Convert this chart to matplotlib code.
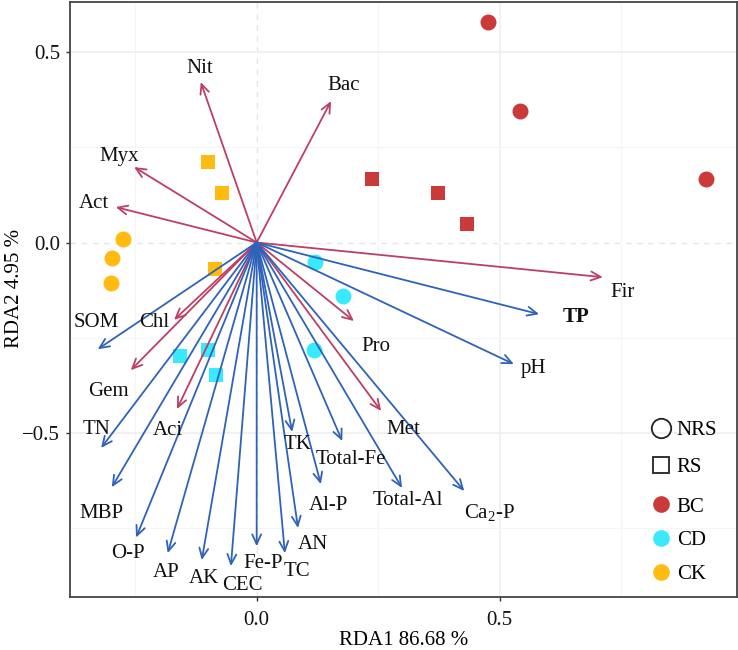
#!/usr/bin/env python3
import matplotlib
matplotlib.use('Agg')
import matplotlib.pyplot as plt
from matplotlib.lines import Line2D

plt.rcParams['font.family'] = ['Liberation Serif', 'DejaVu Serif']
plt.rcParams['mathtext.fontset'] = 'custom'
plt.rcParams['mathtext.rm'] = 'Liberation Serif'
plt.rcParams['mathtext.default'] = 'rm'

# Sample scores, one list per treatment and root compartment.
bc_nrs_x = [0.476, 0.542, 0.925]
bc_nrs_y = [0.579, 0.345, 0.167]
bc_rs_x = [0.237, 0.373, 0.433]
bc_rs_y = [0.167, 0.130, 0.049]
cd_nrs_x = [0.120, 0.178, 0.118]
cd_nrs_y = [-0.051, -0.140, -0.282]
cd_rs_x = [-0.158, -0.100, -0.084]
cd_rs_y = [-0.298, -0.282, -0.348]
ck_nrs_x = [-0.275, -0.298, -0.300]
ck_nrs_y = [0.009, -0.041, -0.106]
ck_rs_x = [-0.100, -0.071, -0.086]
ck_rs_y = [0.211, 0.130, -0.070]

# Phyla arrows (red).
phyla = ['Nit', 'Bac', 'Myx', 'Act', 'Fir', 'Pro', 'Met', 'Chl', 'Gem', 'Aci']
phyla_x = [-0.115, 0.153, -0.252, -0.290, 0.712, 0.200, 0.256, -0.170, -0.259, -0.164]
phyla_y = [0.421, 0.371, 0.198, 0.093, -0.091, -0.206, -0.442, -0.203, -0.335, -0.437]
phyla_label_x = [-0.117, 0.178, -0.283, -0.335, 0.752, 0.245, 0.301, -0.211, -0.304, -0.182]
phyla_label_y = [0.456, 0.413, 0.225, 0.102, -0.131, -0.273, -0.491, -0.210, -0.391, -0.494]

# Soil property arrows (blue).
soil = ['SOM', 'TN', 'MBP', 'O-P', 'AP', 'AK', 'CEC', 'Fe-P', 'TC', 'AN', 'Al-P',
        'TK', 'Total-Fe', 'Total-Al', 'Ca$_2$-P', 'pH', 'TP']
soil_x = [-0.327, -0.320, -0.298, -0.248, -0.183, -0.113, -0.053, 0.000, 0.058, 0.085, 0.132,
          0.073, 0.176, 0.299, 0.427, 0.529, 0.581]
soil_y = [-0.280, -0.539, -0.642, -0.774, -0.815, -0.833, -0.849, -0.797, -0.815, -0.749, -0.634,
          -0.497, -0.521, -0.644, -0.652, -0.319, -0.188]
soil_label_x = [-0.331, -0.329, -0.320, -0.265, -0.187, -0.108, -0.030, 0.013, 0.083, 0.116, 0.147,
                0.085, 0.194, 0.311, 0.478, 0.570, 0.657]
soil_label_y = [-0.210, -0.491, -0.712, -0.817, -0.867, -0.882, -0.901, -0.843, -0.864, -0.793, -0.691,
                -0.531, -0.570, -0.677, -0.708, -0.331, -0.195]

RED = '#bd3f63'
BLUE = '#2f62b9'
C_BC = '#cb3a3a'
C_CD = '#38eafc'
C_CK = '#ffbb12'
FS = 15

fig = plt.figure(figsize=(7.38, 6.5), dpi=100)
ax = fig.add_axes([70 / 738, 53 / 650, 667 / 738, 595 / 650])

ax.set_xlim(-0.384, 0.988)
ax.set_ylim(-0.930, 0.631)
ax.set_xticks([0.0, 0.5])
ax.set_xticklabels(['0.0', '0.5'])
ax.set_yticks([-0.5, 0.0, 0.5])
ax.set_yticklabels(['\u22120.5', '0.0', '0.5'])
ax.set_xticks([-0.25, 0.25, 0.75], minor=True)
ax.set_yticks([-0.75, -0.25, 0.25], minor=True)
ax.tick_params(axis='x', which='major', length=3, width=1, color='#333333', labelsize=FS, pad=7, labelcolor='#111111')
ax.tick_params(axis='y', which='major', length=3, width=1, color='#333333', labelsize=FS, pad=4, labelcolor='#111111')
ax.tick_params(which='minor', length=0)
ax.grid(True, which='major', color='#efefef', lw=1.2)
ax.grid(True, which='minor', color='#f5f5f5', lw=0.8)
ax.set_axisbelow(True)
for spine in ax.spines.values():
    spine.set_color('#444444')
    spine.set_linewidth(1.3)

# Zero lines, drawn over a white strip so the grid does not fill the dashes.
ax.axhline(0, color='white', lw=1.4, zorder=1)
ax.axvline(0, color='white', lw=1.4, zorder=1)
ax.axhline(0, color='#e6e6e6', lw=1, ls=(0, (4, 4)), zorder=1)
ax.axvline(0, color='#e6e6e6', lw=1, ls=(0, (4, 4)), zorder=1)

# Samples.
for xs, ys, col, mk in [(bc_nrs_x, bc_nrs_y, C_BC, 'o'), (bc_rs_x, bc_rs_y, C_BC, 's'),
                        (cd_nrs_x, cd_nrs_y, C_CD, 'o'), (cd_rs_x, cd_rs_y, C_CD, 's'),
                        (ck_nrs_x, ck_nrs_y, C_CK, 'o'), (ck_rs_x, ck_rs_y, C_CK, 's')]:
    ax.plot(xs, ys, ls='none', marker=mk, color=col, ms=11.5 if mk == 'o' else 10.5, mew=0, zorder=2)


def draw_arrows(xs, ys, color):
    for x, y in zip(xs, ys):
        ax.annotate('', xy=(x, y), xytext=(0, 0), zorder=3,
                    arrowprops=dict(arrowstyle='->,head_length=0.7,head_width=0.32', color=color,
                                    lw=1.3, shrinkA=0, shrinkB=0))


draw_arrows(phyla_x, phyla_y, RED)
draw_arrows(soil_x, soil_y, BLUE)

for name, x, y in zip(phyla, phyla_label_x, phyla_label_y):
    ax.text(x, y, name, fontsize=FS, ha='center', va='center', color='#111111', zorder=4)
for name, x, y in zip(soil, soil_label_x, soil_label_y):
    ax.text(x, y, name, fontsize=FS, ha='center', va='center', color='#111111', zorder=4,
            fontweight='bold' if name == 'TP' else 'normal')

ax.set_xlabel('RDA1 86.68 %', fontsize=FS, labelpad=1)
ax.set_ylabel('RDA2 4.95 %', fontsize=FS, labelpad=-1, y=0.518)

# Legends: compartment shapes, then treatment colours.
shape_handles = [Line2D([], [], ls='none', marker='o', mfc='none', mec='#222222', mew=1.3, ms=14, label='NRS'),
                 Line2D([], [], ls='none', marker='s', mfc='none', mec='#222222', mew=1.3, ms=12, label='RS')]
color_handles = [Line2D([], [], ls='none', marker='o', color=C_BC, mew=0, ms=12, label='BC'),
                 Line2D([], [], ls='none', marker='o', color=C_CD, mew=0, ms=12, label='CD'),
                 Line2D([], [], ls='none', marker='o', color=C_CK, mew=0, ms=12, label='CK')]
leg1 = ax.legend(handles=shape_handles, loc='upper left', bbox_to_anchor=(0.8627, 0.296), frameon=False,
                 fontsize=FS, labelspacing=0.82, handletextpad=0.0, handlelength=1.5, borderpad=0, borderaxespad=0)
ax.add_artist(leg1)
ax.legend(handles=color_handles, loc='upper left', bbox_to_anchor=(0.8627, 0.168), frameon=False,
          fontsize=FS, labelspacing=0.68, handletextpad=0.0, handlelength=1.5, borderpad=0, borderaxespad=0)

fig.savefig('out.png', dpi=100)
